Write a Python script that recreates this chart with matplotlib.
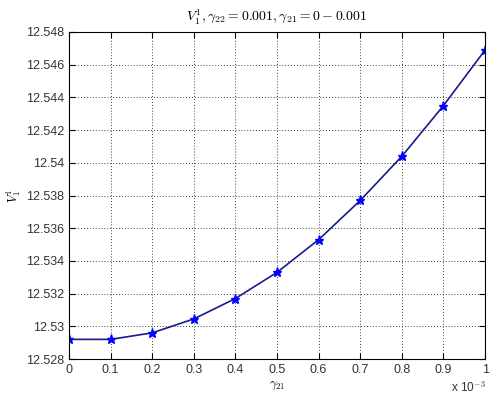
import matplotlib
matplotlib.use("Agg")
import matplotlib.pyplot as plt

plt.rcParams['font.family'] = ['Liberation Sans', 'DejaVu Sans']
plt.rcParams['mathtext.fontset'] = 'cm'

gamma21 = [0, 0.1, 0.2, 0.3, 0.4, 0.5, 0.6, 0.7, 0.8, 0.9, 1.0]  # x 1e-3
V11 = [12.5292, 12.5292, 12.5296, 12.53045, 12.5317, 12.5333,
       12.5353, 12.5377, 12.5404, 12.5435, 12.5469]
xticks = [0, 0.1, 0.2, 0.3, 0.4, 0.5, 0.6, 0.7, 0.8, 0.9, 1]
xticklabels = ['0', '0.1', '0.2', '0.3', '0.4', '0.5', '0.6', '0.7', '0.8', '0.9', '1']
yticks = [12.528, 12.53, 12.532, 12.534, 12.536, 12.538, 12.54, 12.542, 12.544, 12.546, 12.548]
yticklabels = ['12.528', '12.53', '12.532', '12.534', '12.536', '12.538', '12.54',
               '12.542', '12.544', '12.546', '12.548']

fig = plt.figure(figsize=(4.91, 4.0), dpi=100)
ax = fig.add_axes([0.1405, 0.1025, 0.8475, 0.8175])

ax.plot(gamma21, V11, color='#1a1a8c', linewidth=1.2, marker='*',
        markersize=6.5, markerfacecolor='#0000ff', markeredgecolor='#0000ff')

ax.set_xlim(0, 1)
ax.set_ylim(12.528, 12.548)
ax.set_xticks(xticks)
ax.set_xticklabels(xticklabels)
ax.set_yticks(yticks)
ax.set_yticklabels(yticklabels)
ax.tick_params(direction='in', labelsize=9, colors='black', length=4,
               top=True, right=True, labelcolor='#333333')
ax.grid(True, linestyle=(0, (1, 2.5)), color='black', linewidth=0.6)
for s in ax.spines.values():
    s.set_linewidth(0.8)

ax.set_title(r'$V_1^1, \gamma_{22} = 0.001, \gamma_{21} = 0 - 0.001$', fontsize=10, pad=8)
ax.set_xlabel(r'$\gamma_{21}$', fontsize=9, labelpad=3)
ax.set_ylabel(r'$V_1^1$', fontsize=9, labelpad=2)
fig.text(0.99, 0.022, r'x 10$^{-3}$', fontsize=8.5, color='#333333', ha='right')

fig.savefig('out.png', dpi=100)
